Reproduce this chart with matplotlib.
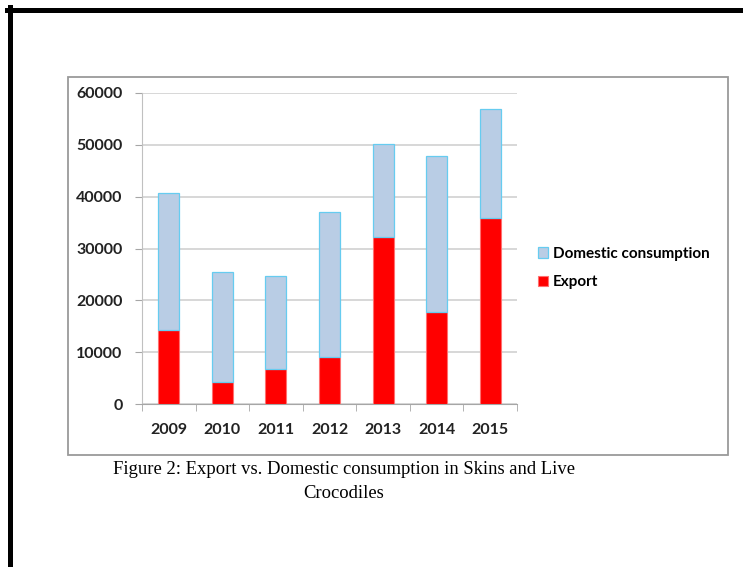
import numpy as np
import matplotlib.pyplot as plt
from matplotlib.patches import Rectangle
from matplotlib.lines import Line2D

# Crocodile skins and live animals, 2009-2015
years = ['2009', '2010', '2011', '2012', '2013', '2014', '2015']
export = [14200, 4200, 6800, 9000, 32200, 17700, 35800]
domestic = [26600, 21300, 17800, 28100, 18000, 30100, 21200]

W, H = 743, 567
fig = plt.figure(figsize=(W / 100, H / 100), dpi=100)
fig.patch.set_facecolor('white')


def fx(px):
    return px / W


def fy(py):
    return 1 - py / H


# page frame (top and left rules)
fig.add_artist(Line2D([fx(7), 1.0], [fy(9.5), fy(9.5)], color='black', lw=3.6,
                      transform=fig.transFigure))
fig.add_artist(Line2D([fx(9.5), fx(9.5)], [fy(7), 0.0], color='black', lw=3.6,
                      transform=fig.transFigure))

# chart box
fig.add_artist(Rectangle((fx(68), fy(455)), fx(728) - fx(68), fy(77) - fy(455),
                         fill=False, edgecolor='#9a9a9a', lw=1.3,
                         transform=fig.transFigure))

ax = fig.add_axes([fx(142), fy(404), fx(517) - fx(142), fy(93) - fy(404)])

x = np.arange(len(years))
bw = 0.39
ax.bar(x, export, bw, color='#ff0000', edgecolor='#ff7070', lw=0.8,
       label='Export', zorder=3)
ax.bar(x, domestic, bw, bottom=export, color='#b9cde5', edgecolor='#66ccf0',
       lw=0.9, label='Domestic consumption', zorder=3)

ax.set_xlim(-0.5, len(years) - 0.5)
ax.set_ylim(0, 60000)
ax.set_yticks(np.arange(0, 60001, 10000))
ax.yaxis.grid(True, color='#d4d4d4', lw=1.3, zorder=0)

ax.set_xticks(x)
ax.set_xticks(np.arange(-0.5, len(years), 1.0), minor=True)
ax.tick_params(axis='x', which='major', length=0, pad=14)
ax.tick_params(axis='x', which='minor', length=5, color='#a6a6a6', direction='out')
ax.tick_params(axis='y', length=5, color='#a6a6a6', pad=9)

lab_font = dict(family=['Lato', 'DejaVu Sans'], weight='bold', size=11.5)
ax.set_xticklabels(years, **lab_font, color='#222222')
ax.set_yticklabels([str(v) for v in range(0, 60001, 10000)], **lab_font,
                   color='#222222')

for side in ['top', 'right']:
    ax.spines[side].set_visible(False)
ax.spines['left'].set_color('#c0c0c0')
ax.spines['bottom'].set_color('#a6a6a6')

handles, labels = ax.get_legend_handles_labels()
leg = fig.legend(handles[::-1], labels[::-1], loc='upper left',
                 bbox_to_anchor=(fx(524), fy(233)), frameon=False,
                 handlelength=0.7, handleheight=0.7, handletextpad=0.3,
                 labelspacing=0.95,
                 prop=dict(family=['Lato', 'DejaVu Sans'], weight='bold', size=11))

fig.text(fx(344), fy(469), 'Figure 2: Export vs. Domestic consumption in Skins and Live',
         ha='center', va='center', family='Liberation Serif', size=13.4)
fig.text(fx(344), fy(494), 'Crocodiles', ha='center', va='center',
         family='Liberation Serif', size=13.4)

fig.savefig('out.png', dpi=100)
